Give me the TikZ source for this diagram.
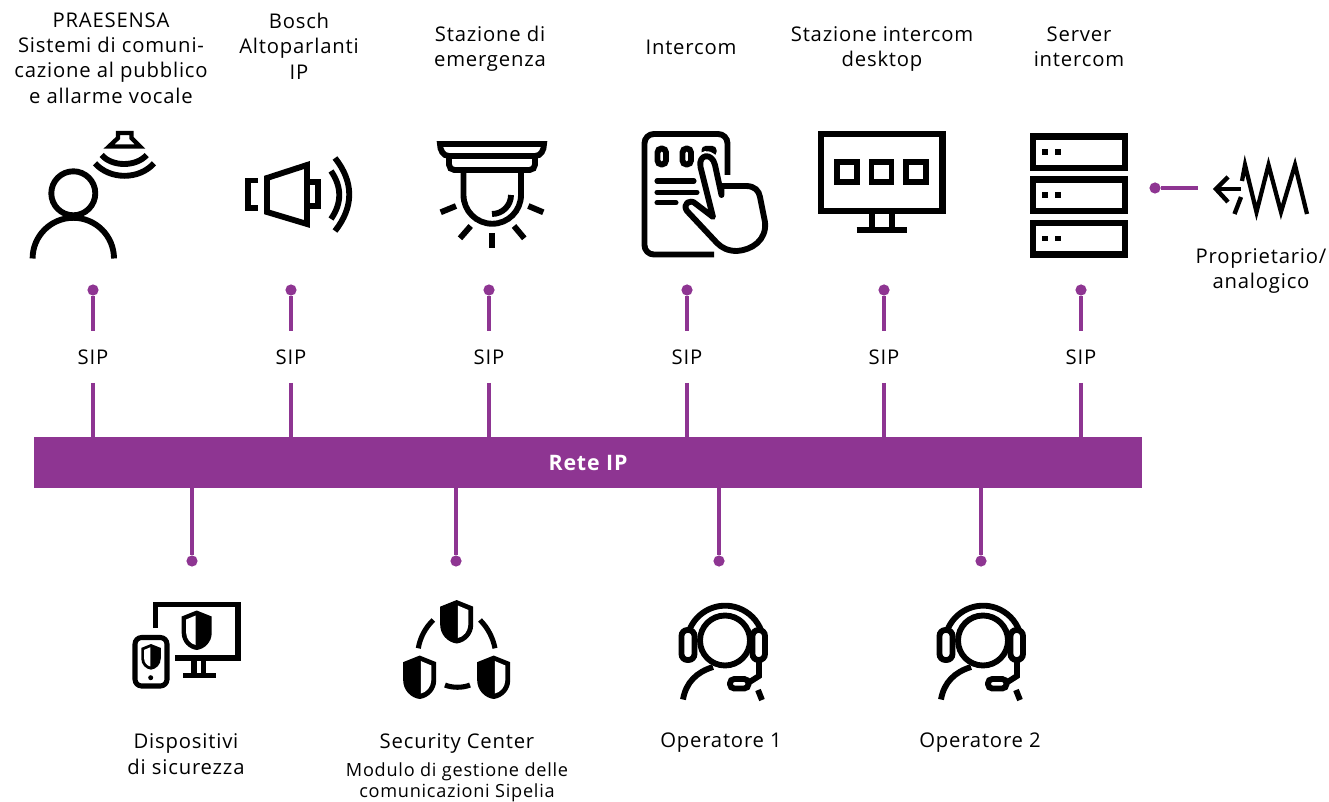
\documentclass[tikz,border=0pt]{standalone}
\usepackage{fontspec}
\setmainfont{Open Sans}[LetterSpace=4]
\usepackage{xcolor}
\usetikzlibrary{calc,positioning}
\definecolor{rete}{HTML}{8E3592}
\tikzset{
	lab/.style={font=\fontsize{15.2}{19}\selectfont,align=center,inner sep=0pt},
	smalllab/.style={font=\fontsize{13.6}{16}\selectfont,align=center,inner sep=0pt},
	sipdot/.style={circle,fill=rete,inner sep=0pt,minimum size=8.4pt},
	siplab/.style={lab,minimum height=38.25pt},
	sipline/.style={draw=rete,line width=2.3pt},
	ico/.style={draw=black,line width=4.4pt,fill=none},
	icothin/.style={ico,line width=3.8pt},
	pics/shield/.style={code={
		\fill[black] (0,-19.5) -- (15,-13.5) -- (15,3) .. controls (15,12) and (8,19) .. (0,20) .. controls (-8,19) and (-15,12) .. (-15,3) -- (-15,-13.5) -- cycle;
		\fill[white] (-1,-14.5) -- (-10.5,-10.5) -- (-10.5,3) .. controls (-10.5,9) and (-6,14) .. (-1,15) -- cycle;
	}},
	pics/operator/.style={code={
		\draw[ico] (0,0.5) circle (25);
		\draw[ico] (-36,-9) arc (200:340:38.5);
		\draw[ico,rounded corners=4.5pt,fill=white] (-43.5,-10) rectangle (-30.5,20);
		\draw[ico,rounded corners=4.5pt,fill=white] (27.5,-10) rectangle (40,20);
		\draw[ico] (34,21) -- (34,36) -- (23,43);
		\draw[ico,rounded corners=3.2pt] (5,39) rectangle (23.5,48.5);
		\draw[ico] (-42,59.5) .. controls (-39,42) and (-28,32) .. (-12,27);
		\draw[ico] (33,50) -- (37,60);
	}},
}
\begin{document}
\begin{tikzpicture}[x=0.75pt,y=-0.75pt]
	\useasboundingbox (0,0) rectangle (1329,802);
	\node[fill=rete,text=white,minimum width=831pt,minimum height=38.25pt,inner sep=0pt,font=\fontsize{16}{19}\selectfont\bfseries] (barip) at (588,462.5) {Rete IP};
	\foreach \n/\x in {a/93,b/291,c/489,d/687,e/884,f/1081}{
		\node[sipdot] (dot\n) at (\x,290) {};
		\node[siplab] (sip\n) at (\x,357) {SIP};
		\draw[sipline] (dot\n) -- (sip\n);
		\draw[sipline] (sip\n) -- (sip\n |- barip.north);
	}
	\foreach \n/\x in {g/192,h/456,i/719,j/981}{
		\node[sipdot] (dot\n) at (\x,561) {};
		\draw[sipline] (dot\n |- barip.south) -- (dot\n);
	}
	\node[sipdot] (dotk) at (1155,188) {};
	\coordinate (propend) at (1198,188);
	\draw[sipline] (dotk) -- (propend);

	\node[lab] (praesensa) at (111,58) {PRAESENSA\\Sistemi di comuni-\\cazione al pubblico\\e allarme vocale};
	\node[lab] (bosch) at (299,46) {Bosch\\Altoparlanti\\IP};
	\node[lab] (stazione) at (490,49) {Stazione di\\emergenza};
	\node[lab] (intercom) at (691,47) {Intercom};
	\node[lab] (desktop) at (882,49) {Stazione intercom\\desktop};
	\node[lab] (server) at (1079,47) {Server\\intercom};
	\node[lab] (propr) at (1261,271) {Proprietario/\\analogico};
	\node[lab] (dispositivi) at (186,754) {Dispositivi\\di sicurezza};
	\node[lab] (security) at (457,743) {Security Center};
	\node[smalllab] (modulo) at (457,782.5) {Modulo di gestione delle\\comunicazioni Sipelia};
	\node[lab] (op1) at (721,743) {Operatore 1};
	\node[lab] (op2) at (980,743) {Operatore 2};

	\draw[ico] (73.3,193.3) circle (22);
	\draw[ico] (32.6,258.5) arc (180:360:40.7);
	\draw[line width=3.3pt] (118,133) -- (131.5,133) -- (131.5,138) -- (140,146.5) -- (109,146.5) -- (118,138) -- cycle;
	\draw[ico] (101.7,155) .. controls (112,167) and (136,167) .. (146.7,155);
	\draw[ico] (95,163.3) .. controls (110,180) and (139,180) .. (154,163.3);

	\draw[ico] (258,180.5) -- (247.7,180.5) -- (247.7,208) -- (258,208);
	\draw[ico] (267,178) -- (307,165) -- (307,224) -- (267,212) -- cycle;
	\draw[ico] (307,182) -- (318,182) -- (318,206) -- (307,206);
	\draw[ico] (331,171) .. controls (342,187) and (342,203) .. (331,219);
	\draw[ico] (335,158) .. controls (354,182) and (354,207) .. (335,231);

	\draw[ico] (440,144) -- (544,144) .. controls (544,150) and (541,156) .. (535,156) -- (449,156) .. controls (443,156) and (440,150) .. (440,144) -- cycle;
	\draw[ico,rounded corners=4pt] (449,156) -- (449,170) -- (535,170) -- (535,156);
	\draw[ico] (463.5,170) -- (463.5,195) arc (180:0:28.75) -- (521,170);
	\draw[ico] (511,195) arc (0:90:19);
	\foreach \a/\b/\c/\d in {491.7/233/491.7/248,470.7/226/460/238.3,514/226/524.3/238.3,456/206/440.7/212.3,528.3/206/543.3/212.3}{
		\draw[ico] (\a,\b) -- (\c,\d);
	}

	\draw[ico,rounded corners=7pt] (727.5,175) -- (727.5,134) -- (644.5,134) -- (644.5,254.5) -- (714,254.5);
	\draw[ico,rounded corners=3pt] (657.5,148.5) rectangle (666,164.5);
	\draw[ico,rounded corners=3pt] (682.5,148.5) rectangle (691,164.5);
	\fill[black,rounded corners=3pt] (701.5,146) -- (716.5,146) -- (716.5,156) -- (701.5,156) -- cycle;
	\draw[icothin,line cap=round] (657,181) -- (694,181);
	\draw[icothin,line cap=round] (657,192.3) -- (697,192.3);
	\draw[icothin,line cap=round] (657,202.7) -- (676,202.7);
	\draw[ico,line join=round,fill=white,preaction={draw=white,line width=7.5pt}] (700.5,167) .. controls (698,154) and (712,152) .. (715,165) -- (721.5,195) -- (721.5,186) -- (746,186) .. controls (755,186) and (759,191) .. (760,197) -- (765,222) .. controls (767,240) and (752,250) .. (737,251) .. controls (728,251) and (722,248) .. (717,243) -- (687,211) .. controls (682,204) and (690,198) .. (696,204) -- (713,217) -- cycle;

	\draw[line width=4.6pt] (821,134) rectangle (942.5,210.7);
	\foreach \x in {837,871.5,906}{
		\draw[ico] (\x,162.3) rectangle ++(20,20);
	}
	\draw[ico] (872.3,213) -- (872.3,227);
	\draw[ico] (891.6,213) -- (891.6,227);
	\draw[line width=4.6pt] (856.6,229.8) -- (907,229.8);

	\foreach \y in {136.5,179.5,223}{
		\draw[line width=4.6pt] (1033,\y) rectangle (1125,\y+31.5);
		\fill[black] (1042,\y+12.8) rectangle ++(6,5.5);
		\fill[black] (1055,\y+12.8) rectangle ++(6,5.5);
	}

	\draw[ico,line width=3.3pt] (1241,189) -- (1216,189);
	\draw[ico,line width=3.3pt] (1228,177) -- (1216,189) -- (1228,202);
	\draw[ico,line width=3.3pt] (1241,197) -- (1234.5,214);
	\draw[line width=3.2pt] (1242,181) -- (1245,165) -- (1256.5,212) -- (1268.5,165) -- (1281,212) -- (1295,165) -- (1307,214);

	\draw[icothin] (155.5,628) -- (155.5,604.5) -- (238,604.5) -- (238,658) -- (175,658);
	\draw[icothin] (194,660) -- (194,673);
	\draw[icothin] (203.3,660) -- (203.3,673);
	\draw[icothin] (183.3,675.5) -- (216,675.5);
	\pic at (196.7,630) {shield};
	\draw[icothin,rounded corners=5pt] (135,637.5) rectangle (167,686);
	\fill[black] (150.7,677.7) circle (2.5);
	\pic[scale=0.65] at (151,656.7) {shield};

	\pic[xscale=-1.1,yscale=1.1] at (456.7,621.5) {shield};
	\pic[xscale=-1.1,yscale=1.1] at (419.7,677) {shield};
	\pic[xscale=-1.1,yscale=1.1] at (493.7,677) {shield};
	\draw[icothin] (433.3,620) .. controls (425,628) and (420,638) .. (418.3,648.3);
	\draw[icothin] (480,620) .. controls (488,628) and (493,638) .. (495,648.3);
	\draw[icothin] (445,685) .. controls (452,688) and (463,688) .. (470,685);

	\pic at (725,640) {operator};
	\pic at (983,640) {operator};
\end{tikzpicture}
\end{document}
